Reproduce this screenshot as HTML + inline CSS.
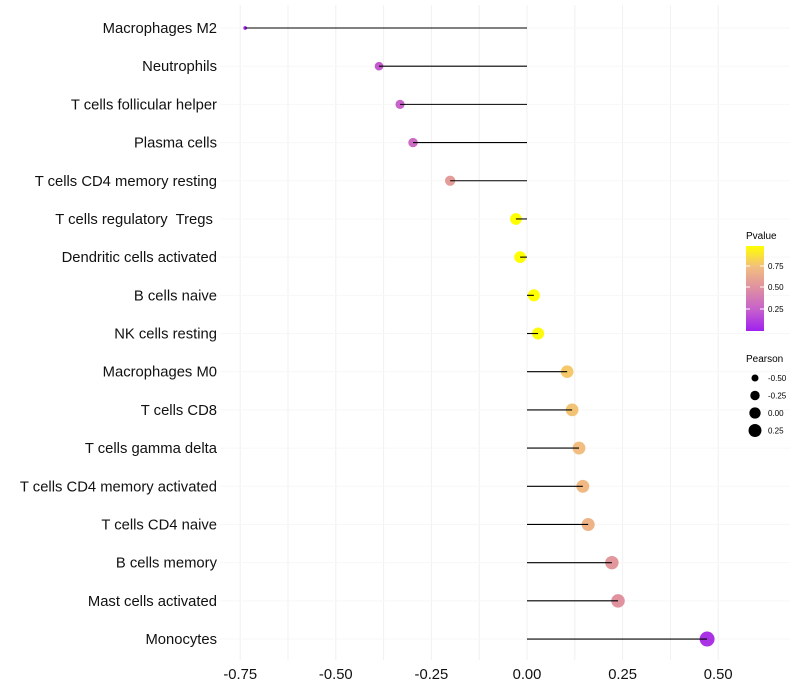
<!DOCTYPE html>
<html><head><meta charset="utf-8"><style>
html,body{margin:0;padding:0;background:#fff;}
svg{display:block;font-family:"Liberation Sans",sans-serif;}
text{white-space:pre;}
</style></head><body>
<svg id="chart" width="800" height="700" viewBox="0 0 800 700" xml:space="preserve">
<defs>
<linearGradient id="pgrad" x1="0" y1="1" x2="0" y2="0">
<stop offset="0" stop-color="#a020f0"/>
<stop offset="0.25" stop-color="#c660cc"/>
<stop offset="0.5" stop-color="#de8fa2"/>
<stop offset="0.75" stop-color="#f2bd80"/>
<stop offset="1" stop-color="#ffff00"/>
</linearGradient>
</defs>
<g id="grid"></g>
<g id="marks"></g>
<g id="ylabels"></g>
<g id="xlabels"></g>
<g>
<text x="746" y="239" font-size="10" fill="#000">Pvalue</text>
<rect x="746" y="246" width="18" height="85" fill="url(#pgrad)"/>
<line x1="746" y1="266" x2="750" y2="266" stroke="#fff"/><line x1="760" y1="266" x2="764" y2="266" stroke="#fff"/>
<line x1="746" y1="287" x2="750" y2="287" stroke="#fff"/><line x1="760" y1="287" x2="764" y2="287" stroke="#fff"/>
<line x1="746" y1="309" x2="750" y2="309" stroke="#fff"/><line x1="760" y1="309" x2="764" y2="309" stroke="#fff"/>
<text x="768" y="269" font-size="8">0.75</text>
<text x="768" y="290" font-size="8">0.50</text>
<text x="768" y="312" font-size="8">0.25</text>
</g>
<g id="sizeleg">
<text x="746" y="362" font-size="10">Pearson</text>
</g>
</svg>
<script>
const categories=["Macrophages M2","Neutrophils","T cells follicular helper","Plasma cells","T cells CD4 memory resting","T cells regulatory  Tregs ","Dendritic cells activated","B cells naive","NK cells resting","Macrophages M0","T cells CD8","T cells gamma delta","T cells CD4 memory activated","T cells CD4 naive","B cells memory","Mast cells activated","Monocytes"];
const pearson=[-0.737,-0.387,-0.332,-0.298,-0.201,-0.029,-0.018,0.018,0.029,0.105,0.118,0.136,0.146,0.160,0.222,0.238,0.471];
const pvalues=[0.01,0.22,0.26,0.30,0.55,0.97,0.97,0.96,0.94,0.76,0.74,0.72,0.70,0.67,0.52,0.50,0.07];
const xTicks=[-0.75,-0.5,-0.25,0,0.25,0.5];
const xTickLabels=["-0.75","-0.50","-0.25","0.00","0.25","0.50"];
const sizeLegendVals=[-0.5,-0.25,0,0.25];
const sizeLegendLabels=["-0.50","-0.25","0.00","0.25"];

const NS="http://www.w3.org/2000/svg";
const x=v=>527+v*382.4;
const y=i=>28+i*38.19;
const r=v=>1.15*Math.sqrt(Math.max(1.5,26.8+32.9*v));
const stops=[[0,[160,32,240]],[0.25,[198,96,204]],[0.5,[222,143,162]],[0.75,[242,189,128]],[1,[255,255,0]]];
function col(p){p=Math.max(0,Math.min(1,p/0.96));for(let k=0;k<stops.length-1;k++){const a=stops[k],b=stops[k+1];if(p<=b[0]){const t=(p-a[0])/(b[0]-a[0]);return "rgb("+a[1].map((c,j)=>Math.round(c+(b[1][j]-c)*t)).join(",")+")";}}return "rgb(255,255,0)";}
function mk(tag,attrs,parent){const e=document.createElementNS(NS,tag);for(const k in attrs)e.setAttribute(k,attrs[k]);parent.appendChild(e);return e;}
const grid=document.getElementById("grid"),marks=document.getElementById("marks"),yl=document.getElementById("ylabels"),xl=document.getElementById("xlabels");
for(let v=-0.75;v<=0.5001;v+=0.125){const l=mk("line",{x1:x(v),x2:x(v),y1:5,y2:660,stroke:"#f0f0f0","stroke-width":1},grid);

}
categories.forEach((c,i)=>{const l=mk("line",{x1:220,x2:790,y1:y(i),y2:y(i),stroke:"#f7f7f7","stroke-width":1},grid);

});
categories.forEach((c,i)=>{
const pt=mk("circle",{cx:x(pearson[i]),cy:y(i),r:r(pearson[i]),fill:col(pvalues[i])},marks);


const sg=mk("line",{x1:x(0),x2:x(pearson[i]),y1:y(i),y2:y(i),stroke:"#000","stroke-width":1.1},marks);


const t=mk("text",{x:217,y:y(i)+5,"text-anchor":"end","font-size":14.8,fill:"#111"},yl);
t.textContent=c;


});
xTicks.forEach((v,i)=>{const t=mk("text",{x:x(v),y:679,"text-anchor":"middle","font-size":14.8,fill:"#111"},xl);
t.textContent=xTickLabels[i];

});
const sl=document.getElementById("sizeleg");
sizeLegendVals.forEach((v,i)=>{const cy=378+i*17.5;
const c=mk("circle",{cx:755,cy:cy,r:r(v)*0.95,fill:"#000"},sl);


const t=mk("text",{x:768,y:cy+3,"font-size":8},sl);
t.textContent=sizeLegendLabels[i];

});
</script>
</body></html>
